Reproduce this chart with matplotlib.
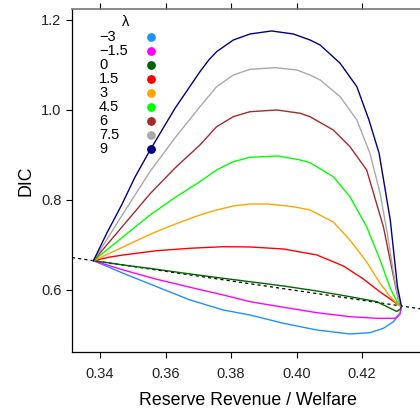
import matplotlib
matplotlib.use("Agg")
import matplotlib.pyplot as plt

plt.rcParams['font.family'] = ['Liberation Sans', 'DejaVu Sans']

# parametres lambda et couleurs des courbes
lambdas = ["\u22123", "\u22121.5", "0", "1.5", "3", "4.5", "6", "7.5", "9"]
couleurs = ["#1E90FF", "#FF00FF", "#006400", "#FF0000", "#FFA500",
            "#00FF00", "#A52A2A", "#A9A9A9", "#000080"]

# point de depart et d'arrivee commun
depart = (0.3380, 0.6651)
arrivee = (0.4320, 0.5644)

# courbes (revenu de reserve / bien-etre, DIC) pour chaque lambda
x_m3 = [0.3471, 0.3573, 0.3675, 0.3776, 0.3858, 0.3960, 0.4062, 0.4163, 0.4224, 0.4265, 0.4296, 0.4316]
y_m3 = [0.6371, 0.6073, 0.5778, 0.5556, 0.5444, 0.5260, 0.5111, 0.5022, 0.5051, 0.5149, 0.5296, 0.5482]

x_m15 = [0.3471, 0.3573, 0.3675, 0.3776, 0.3858, 0.3960, 0.4062, 0.4163, 0.4245, 0.4301, 0.4316]
y_m15 = [0.6444, 0.6238, 0.6060, 0.5889, 0.5740, 0.5616, 0.5496, 0.5407, 0.5371, 0.5371, 0.5467]

x_0 = [0.3471, 0.3573, 0.3675, 0.3776, 0.3858, 0.3960, 0.4062, 0.4163, 0.4245, 0.4286, 0.4306, 0.4317]
y_0 = [0.6556, 0.6460, 0.6356, 0.6260, 0.6184, 0.6089, 0.5978, 0.5851, 0.5740, 0.5593, 0.5522, 0.5578]

x_15 = [0.3431, 0.3471, 0.3573, 0.3675, 0.3776, 0.3858, 0.3960, 0.4062, 0.4143, 0.4204, 0.4255, 0.4286, 0.4311]
y_15 = [0.6733, 0.6778, 0.6873, 0.6927, 0.6962, 0.6956, 0.6911, 0.6778, 0.6533, 0.6244, 0.5956, 0.5800, 0.5667]

x_3 = [0.3466, 0.3553, 0.3629, 0.3705, 0.3756, 0.3807, 0.3858, 0.3914, 0.3990, 0.4041, 0.4112, 0.4163, 0.4214, 0.4255, 0.4286, 0.4311]
y_3 = [0.6940, 0.7238, 0.7462, 0.7667, 0.7778, 0.7867, 0.7911, 0.7911, 0.7851, 0.7778, 0.7511, 0.7111, 0.6622, 0.6149, 0.5851, 0.5667]

x_45 = [0.3466, 0.3553, 0.3629, 0.3705, 0.3756, 0.3807, 0.3858, 0.3944, 0.4011, 0.4041, 0.4112, 0.4163, 0.4214, 0.4255, 0.4286, 0.4307]
y_45 = [0.7156, 0.7667, 0.8053, 0.8407, 0.8667, 0.8851, 0.8949, 0.8978, 0.8889, 0.8829, 0.8518, 0.8073, 0.7407, 0.6667, 0.6044, 0.5733]

x_6 = [0.3466, 0.3553, 0.3629, 0.3705, 0.3756, 0.3807, 0.3858, 0.3940, 0.4011, 0.4041, 0.4112, 0.4163, 0.4214, 0.4265, 0.4296, 0.4311]
y_6 = [0.7391, 0.8140, 0.8711, 0.9222, 0.9629, 0.9851, 0.9962, 1.0000, 0.9927, 0.9851, 0.9556, 0.9184, 0.8667, 0.7407, 0.6296, 0.5778]

x_75 = [0.3466, 0.3553, 0.3629, 0.3705, 0.3756, 0.3807, 0.3858, 0.3934, 0.4001, 0.4041, 0.4072, 0.4133, 0.4184, 0.4224, 0.4255, 0.4277, 0.4296, 0.4311]
y_75 = [0.7644, 0.8636, 0.9382, 1.0073, 1.0518, 1.0778, 1.0904, 1.0940, 1.0889, 1.0778, 1.0667, 1.0296, 0.9778, 0.9038, 0.8149, 0.7260, 0.6371, 0.5778]

x_9 = [0.3421, 0.3466, 0.3507, 0.3553, 0.3629, 0.3705, 0.3732, 0.3756, 0.3807, 0.3858, 0.3924, 0.3990, 0.4041, 0.4072, 0.4133, 0.4184, 0.4221, 0.4252, 0.4286, 0.4308]
y_9 = [0.7267, 0.7889, 0.8511, 0.9111, 1.0038, 1.0850, 1.1110, 1.1296, 1.1556, 1.1689, 1.1756, 1.1689, 1.1556, 1.1444, 1.1038, 1.0518, 0.9778, 0.9038, 0.7556, 0.6073]

courbes_x = [x_m3, x_m15, x_0, x_15, x_3, x_45, x_6, x_75, x_9]
courbes_y = [y_m3, y_m15, y_0, y_15, y_3, y_45, y_6, y_75, y_9]

W, H = 420, 411
fig = plt.figure(figsize=(W / 100, H / 100), dpi=100)
ax = fig.add_axes([72 / W, 1 - 352 / H, 352 / W, 342.5 / H])

# droite de reference entre les deux extremites
ax.axline(depart, arrivee, color="black", lw=0.9, ls=(0, (2.5, 2.5)), zorder=1)

for xs, ys, c in zip(courbes_x, courbes_y, couleurs):
    ax.plot([depart[0]] + xs + [arrivee[0]], [depart[1]] + ys + [arrivee[1]],
            color=c, lw=1.0, zorder=2, solid_joinstyle="round")

ax.set_xlim(0.33145, 0.4389)
ax.set_ylim(0.4622, 1.2233)
ax.set_xticks([0.34, 0.36, 0.38, 0.40, 0.42])
ax.set_xticklabels(["0.34", "0.36", "0.38", "0.40", "0.42"])
ax.set_yticks([0.6, 0.8, 1.0, 1.2])
ax.set_yticklabels(["0.6", "0.8", "1.0", "1.2"])
ax.tick_params(axis="both", labelsize=10.5, length=4.5, width=0.8, colors="black",
               labelcolor="#222222")
ax.tick_params(axis="x", top=True, pad=6)
ax.tick_params(axis="y", pad=3)
ax.spines["right"].set_visible(False)
ax.spines["top"].set_color("#777777")
ax.spines["top"].set_linewidth(1.2)
for s in ["left", "bottom"]:
    ax.spines[s].set_linewidth(0.9)

ax.set_xlabel("Reserve Revenue / Welfare", fontsize=12.8, labelpad=8)
ax.set_ylabel("DIC", fontsize=12.8, labelpad=5)

# legende lambda
fig.text(126 / W, 1 - 22 / H, "\u03bb", fontsize=10.5, ha="center", va="center")
for i, (lab, c) in enumerate(zip(lambdas, couleurs)):
    yy = 1 - (37 + 14 * i) / H
    fig.text(99 / W, yy, lab, fontsize=10.5, ha="left", va="center")
    ax.scatter([151 / W], [yy], s=40, color=c, transform=fig.transFigure,
               clip_on=False, zorder=5, linewidths=0)

fig.savefig("out.png", dpi=100)
